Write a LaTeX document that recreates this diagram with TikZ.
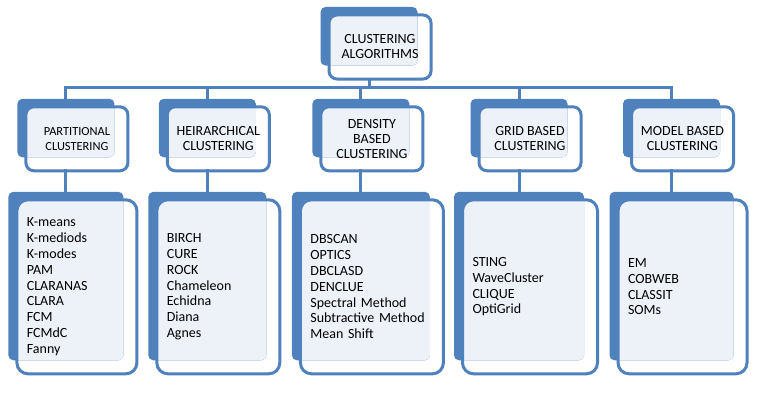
\documentclass[tikz,border=0pt]{standalone}
\usepackage{fontspec}
\setmainfont{Carlito}
\usetikzlibrary{positioning,backgrounds}
\definecolor{algoblue}{RGB}{79,129,189}
\definecolor{algopale}{RGB}{237,241,248}

\begin{document}
\begin{tikzpicture}[
    x=1pt, y=1pt,
    box/.style={draw=algoblue, line width=3pt, rounded corners=8pt, outer sep=0pt, align=center,
      minimum width=102pt, minimum height=64pt, inner sep=2pt, font=\fontsize{14}{15}\selectfont},
    listbox/.style={box, rounded corners=11pt, align=left, inner xsep=10pt, text width=#1,
      minimum height=174pt, font=\fontsize{14}{15.8}\selectfont},
    link/.style={draw=algoblue, line width=3pt, line cap=rect}
  ]
    \useasboundingbox (0,0) rectangle (762,400);

    \node[box] (top) at (380,353) {CLUSTERING\\ALGORITHMS};
    \node[box, font=\fontsize{12.4}{14.6}\selectfont] (part) at (76.9,261.2) {PARTITIONAL\\CLUSTERING};
    \node[box] (hier) at (218.3,261.2) {HEIRARCHICAL\\CLUSTERING};
    \node[box] (dens) at (371.9,261.2) {DENSITY\\BASED\\CLUSTERING};
    \node[box] (grid) at (530,261.2) {GRID BASED\\CLUSTERING};
    \node[box] (model) at (682.5,261.2) {MODEL BASED\\CLUSTERING};

    \node[listbox=100pt, below=29pt of part] (part-list)
      {K-means\\K-mediods\\K-modes\\PAM\\CLARANAS\\CLARA\\FCM\\FCMdC\\Fanny};
    \node[listbox=103pt, below=29pt of hier] (hier-list)
      {BIRCH\\CURE\\ROCK\\Chameleon\\Echidna\\Diana\\Agnes};
    \node[listbox=123pt, below=29pt of dens] (dens-list)
      {DBSCAN\\OPTICS\\DBCLASD\\DENCLUE\\Spectral Method\\Subtractive Method\\Mean Shift};
    \node[listbox=115pt, below=29pt of grid] (grid-list)
      {STING\\WaveCluster\\CLIQUE\\OptiGrid};
    \node[listbox=109pt, below=29pt of model] (model-list)
      {EM\\COBWEB\\CLASSIT\\SOMs};

    \begin{scope}[on background layer]
      \fill[white] (0,0) rectangle (762,400);
      \foreach \n in {top,part,hier,dens,grid,model,part-list,hier-list,dens-list,grid-list,model-list} {
        \fill[algoblue, rounded corners=5pt] ([shift={(-8.5,8)}]\n.north west)
          rectangle ([shift={(-13.5,13.5)}]\n.south east);
        \begin{scope}
          \clip[rounded corners=8pt] (\n.north west) rectangle (\n.south east);
          \fill[algopale, rounded corners=5pt] ([shift={(-8.5,8)}]\n.north west)
            rectangle ([shift={(-13.5,13.5)}]\n.south east);
        \end{scope}
      }
    \end{scope}

    \draw[link] ([xshift=-11pt]top.south) -- ++(0,-8) coordinate (bus);
    \foreach \nd in {part,hier,dens,grid,model} {
      \coordinate (\nd-in) at ([xshift=-11pt,yshift=8pt]\nd.north);
      \draw[link] (\nd-in) -- (\nd-in |- bus);
      \draw[link] ([xshift=-11pt]\nd.south) -- ([xshift=-11pt,yshift=8pt]\nd-list.north);
    }
    \draw[link] (part-in |- bus) -- (model-in |- bus);
  \end{tikzpicture}
\end{document}
